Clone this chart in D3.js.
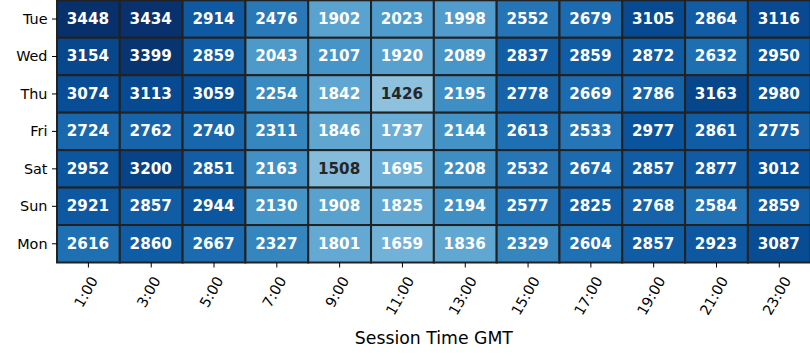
<!DOCTYPE html>
<html>
<head>
<meta charset="utf-8">
<script src="https://cdn.jsdelivr.net/npm/d3@7"></script>
<style>
  body { margin: 0; background: #fff; }
  svg { display: block; font-family: "DejaVu Sans", sans-serif; }
</style>
</head>
<body>
<div id="chart"></div>
<script>
// righe e colonne della heatmap
const days = ['Tue', 'Wed', 'Thu', 'Fri', 'Sat', 'Sun', 'Mon'];
const hours = ['1:00', '3:00', '5:00', '7:00', '9:00', '11:00', '13:00', '15:00', '17:00', '19:00', '21:00', '23:00'];

// valori per giorno
const tueValues = [3448, 3434, 2914, 2476, 1902, 2023, 1998, 2552, 2679, 3105, 2864, 3116];
const wedValues = [3154, 3399, 2859, 2043, 2107, 1920, 2089, 2837, 2859, 2872, 2632, 2950];
const thuValues = [3074, 3113, 3059, 2254, 1842, 1426, 2195, 2778, 2669, 2786, 3163, 2980];
const friValues = [2724, 2762, 2740, 2311, 1846, 1737, 2144, 2613, 2533, 2977, 2861, 2775];
const satValues = [2952, 3200, 2851, 2163, 1508, 1695, 2208, 2532, 2674, 2857, 2877, 3012];
const sunValues = [2921, 2857, 2944, 2130, 1908, 1825, 2194, 2577, 2825, 2768, 2584, 2859];
const monValues = [2616, 2860, 2667, 2327, 1801, 1659, 1836, 2329, 2604, 2857, 2923, 3087];

const rows = [tueValues, wedValues, thuValues, friValues, satValues, sunValues, monValues];

const xLabel = 'Session Time GMT';

// matplotlib "Blues"
const bluesStops = ['#f7fbff', '#deebf7', '#c6dbef', '#9ecae1', '#6baed6', '#4292c6', '#2171b5', '#08519c', '#08306b'];

const W = 810, H = 360;
const mLeft = 57, mRight = 810.7, mTop = 0.3, mBottom = 262.5;

const svg = d3.select('#chart')
    .append('svg')
    .attr('width', W)
    .attr('height', H);

const x = d3.scaleBand().domain(hours).range([mLeft, mRight]);
const y = d3.scaleBand().domain(days).range([mTop, mBottom]);

const vmax = d3.max(rows, r => d3.max(r));
const color = d3.scaleLinear()
    .domain(bluesStops.map((c, i) => vmax * i / (bluesStops.length - 1)))
    .range(bluesStops)
    .interpolate(d3.interpolateRgb);

// luminanza relativa come seaborn per scegliere il colore del testo
function luminance(c) {
    const rgb = d3.rgb(c);
    const ch = [rgb.r, rgb.g, rgb.b].map(v => {
        v = v / 255;
        return v <= 0.03928 ? v / 12.92 : Math.pow((v + 0.055) / 1.055, 2.4);
    });
    return 0.2126 * ch[0] + 0.7152 * ch[1] + 0.0722 * ch[2];
}

const cells = [];
rows.forEach((r, i) => r.forEach((v, j) => cells.push({ day: days[i], hour: hours[j], value: v })));

// celle
svg.append('g')
    .selectAll('rect')
    .data(cells)
    .join('rect')
    .attr('x', d => x(d.hour))
    .attr('y', d => y(d.day))
    .attr('width', x.bandwidth())
    .attr('height', y.bandwidth())
    .attr('fill', d => color(d.value))
    .attr('stroke', '#222222')
    .attr('stroke-width', 2);

// annotazioni
svg.append('g')
    .selectAll('text')
    .data(cells)
    .join('text')
    .attr('x', d => x(d.hour) + x.bandwidth() / 2 - 0.5)
    .attr('y', d => y(d.day) + y.bandwidth() / 2)
    .attr('text-anchor', 'middle')
    .attr('dominant-baseline', 'central')
    .attr('font-size', 15.2)
    .attr('font-weight', 'bold')
    .attr('fill', d => luminance(color(d.value)) > 0.408 ? '#262626' : '#ffffff')
    .text(d => d.value);

// asse y
const yAxis = svg.append('g');
yAxis.selectAll('line')
    .data(days)
    .join('line')
    .attr('x1', mLeft - 5)
    .attr('x2', mLeft)
    .attr('y1', d => y(d) + y.bandwidth() / 2)
    .attr('y2', d => y(d) + y.bandwidth() / 2)
    .attr('stroke', '#000')
    .attr('stroke-width', 1);
yAxis.selectAll('text')
    .data(days)
    .join('text')
    .attr('x', mLeft - 9.5)
    .attr('y', d => y(d) + y.bandwidth() / 2)
    .attr('text-anchor', 'end')
    .attr('dominant-baseline', 'central')
    .attr('font-size', 14.4)
    .attr('fill', '#000')
    .text(d => d);

// asse x con etichette ruotate di 60 gradi
const xAxis = svg.append('g');
xAxis.selectAll('line')
    .data(hours)
    .join('line')
    .attr('x1', d => x(d) + x.bandwidth() / 2)
    .attr('x2', d => x(d) + x.bandwidth() / 2)
    .attr('y1', mBottom)
    .attr('y2', mBottom + 5)
    .attr('stroke', '#000')
    .attr('stroke-width', 1);

const labelTop = mBottom + 12;
const fontH = 14.4 * 0.95;
xAxis.selectAll('text')
    .data(hours)
    .join('text')
    .attr('text-anchor', 'middle')
    .attr('dominant-baseline', 'central')
    .attr('font-size', 14.4)
    .attr('fill', '#000')
    .text(d => d)
    .each(function (d) {
        const w = this.getComputedTextLength();
        const a = Math.PI / 3;
        const bh = w * Math.sin(a) + fontH * Math.cos(a);
        const cx = x(d) + x.bandwidth() / 2 - 2.5;
        const cy = labelTop + bh / 2;
        d3.select(this).attr('transform', `translate(${cx},${cy}) rotate(-60)`);
    });

svg.append('text')
    .attr('x', (mLeft + mRight) / 2)
    .attr('y', 344)
    .attr('text-anchor', 'middle')
    .attr('font-size', 17.3)
    .attr('fill', '#000')
    .text(xLabel);
</script>
</body>
</html>
